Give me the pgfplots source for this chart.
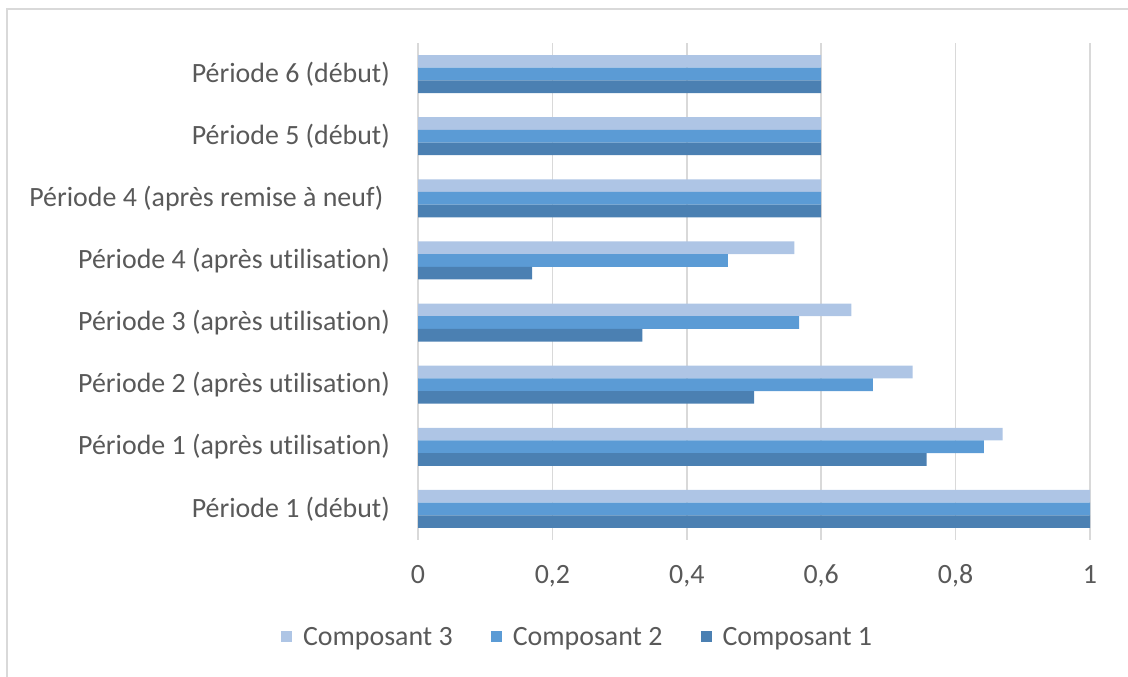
\documentclass[border=0pt]{standalone}
\usepackage{fontspec}
\setmainfont{Carlito}[Ligatures={NoCommon,NoContextual}]
\usepackage{pgfplots}
\pgfplotsset{compat=1.18}
\definecolor{cA}{HTML}{4B80B2}
\definecolor{cB}{HTML}{5B9BD5}
\definecolor{cC}{HTML}{AEC5E5}
\definecolor{gridc}{HTML}{D9D9D9}
\definecolor{txt}{HTML}{595959}
\pgfplotsset{sqlegend/.style={legend image code/.code={\fill[##1] (0bp,-5.5bp) rectangle (11bp,5.5bp);}}}
\begin{document}
\begin{tikzpicture}[x=1bp,y=1bp]
\useasboundingbox (0,0) rectangle (1128,677);
\draw[color=gridc, line width=1.3bp] (7,0) -- (7,668) -- (1128,668);
\begin{axis}[
  at={(418bp,137bp)}, anchor=south west,
  width=672bp, height=497bp, scale only axis,
  xbar, bar width=12.7bp,
  xmin=0, xmax=1, ymin=-0.5, ymax=7.5,
  xtick={0,0.2,0.4,0.6,0.8,1},
  ytick={0,1,2,3,4,5,6,7},
  yticklabels={Période 1 (début),Période 1 (après utilisation),Période 2 (après utilisation),Période 3 (après utilisation),Période 4 (après utilisation),Période 4 (après remise à neuf)\hspace*{0.23em},Période 5 (début),Période 6 (début)},
  xmajorgrids, ymajorgrids=false,
  major grid style={color=gridc, line width=1.5bp},
  axis line style={draw=none},
  major tick length=0pt,
  /pgf/number format/use comma,
  /pgf/number format/assume math mode=true,
  tick label style={font=\fontsize{28}{33}\selectfont, text=txt},
  xticklabel style={anchor=base, yshift=-44bp},
  yticklabel style={anchor=east, xshift=-28bp, inner sep=0pt},
  legend columns=3,
  legend style={at={(axis description cs:-0.204,-0.195)}, anchor=west, draw=none, fill=none, inner sep=0pt,
    nodes={inner sep=0pt, font=\fontsize{28}{33}\selectfont, text=txt},
    /tikz/every odd column/.append style={column sep=11bp},
    /tikz/every even column/.append style={column sep=38bp}},
]
\addplot[fill=cC, draw=none, bar shift=12.7bp, sqlegend] coordinates {(1,0) (0.870,1) (0.736,2) (0.645,3) (0.56,4) (0.6,5) (0.6,6) (0.6,7)};
\addlegendentry{Composant 3}
\addplot[fill=cB, draw=none, bar shift=0bp, sqlegend] coordinates {(1,0) (0.842,1) (0.677,2) (0.567,3) (0.461,4) (0.6,5) (0.6,6) (0.6,7)};
\addlegendentry{Composant 2}
\addplot[fill=cA, draw=none, bar shift=-12.7bp, sqlegend] coordinates {(1,0) (0.757,1) (0.50,2) (0.334,3) (0.17,4) (0.6,5) (0.6,6) (0.6,7)};
\addlegendentry{Composant 1}
\end{axis}
\end{tikzpicture}
\end{document}
